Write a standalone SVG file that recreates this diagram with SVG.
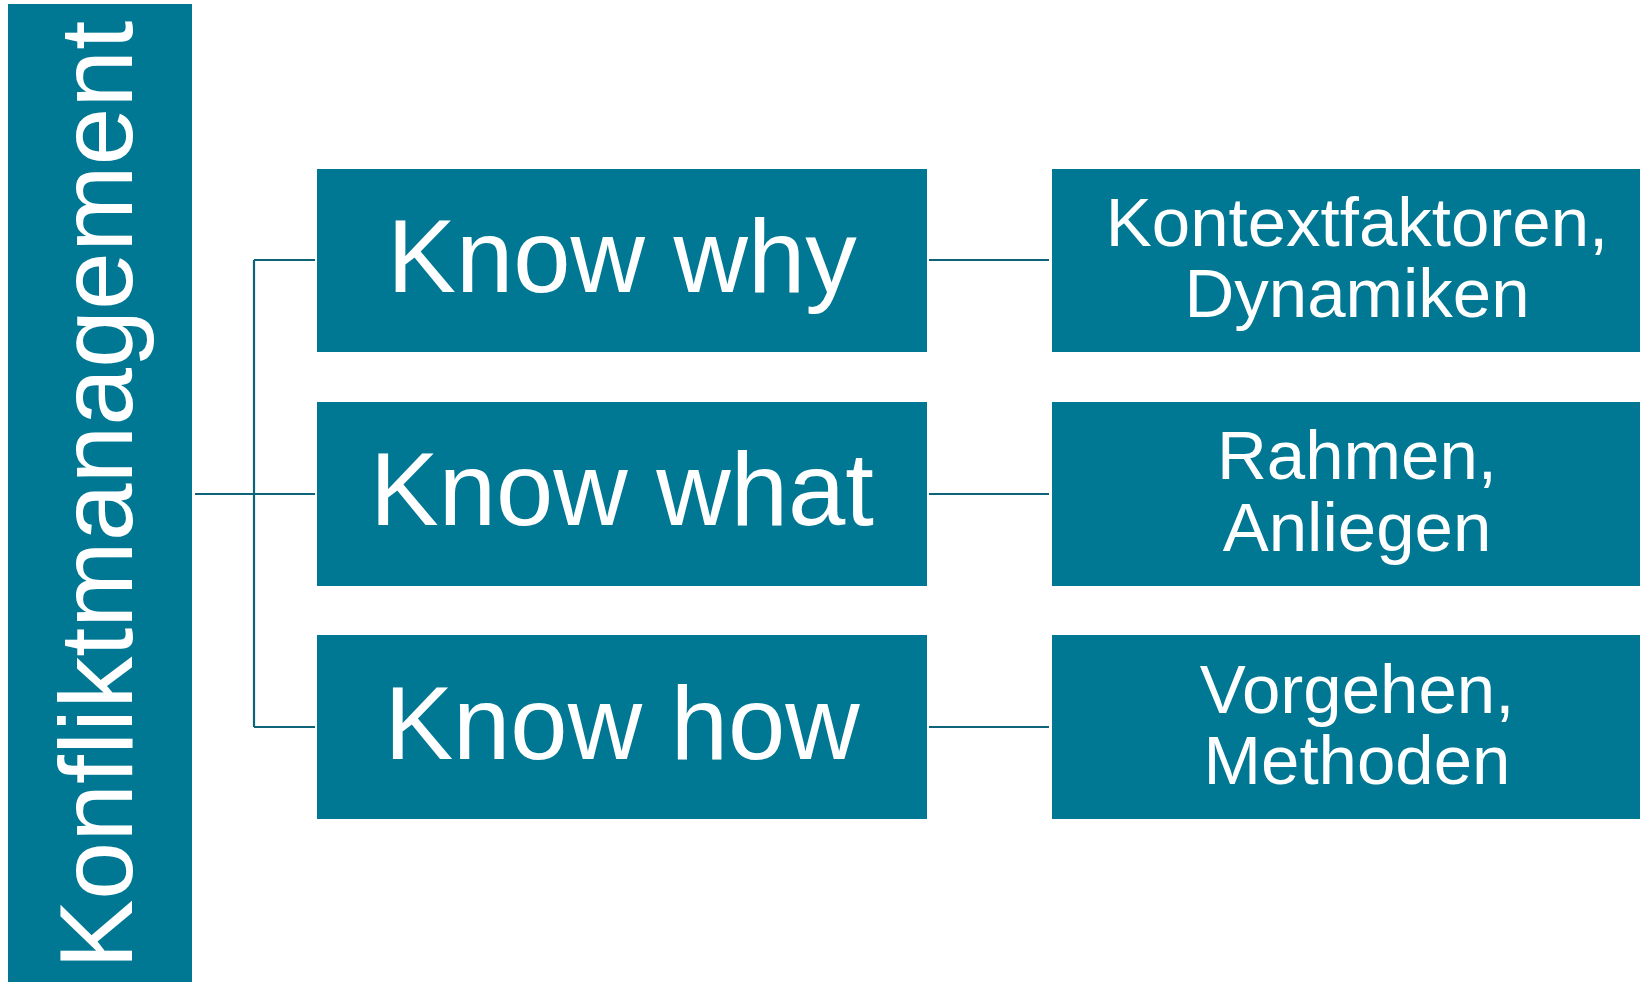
<svg xmlns="http://www.w3.org/2000/svg" width="1640" height="982" viewBox="0 0 1640 982">
<style>
.box{fill:#017893}
.big{font-family:"Liberation Sans",Arial,sans-serif;font-size:103px;fill:#fff;text-anchor:middle}
.sm{font-family:"Liberation Sans",Arial,sans-serif;font-size:69px;fill:#fff;text-anchor:middle}
.main{font-family:"Liberation Sans",Arial,sans-serif;font-size:104px;fill:#fff}
.con{stroke:#0d6479;stroke-width:2.2;fill:none}
</style>
<rect x="0" y="0" width="1640" height="982" fill="#fff"/>
<g id="connectors">
<path class="con" d="M195 494H315M254 260V727M254 260H315M254 727H315"/>
<path class="con" d="M929 260H1049M929 494H1049M929 727H1049"/>
</g>
<g id="root">
<rect class="box" x="8" y="4" width="184" height="978"/>
<text class="main" transform="translate(132 969) rotate(-90)">Konfliktmanagement</text>
</g>
<g id="why">
<rect class="box" x="317" y="169" width="610" height="183"/>
<text class="big" x="622" y="292">Know why</text>
</g>
<g id="what">
<rect class="box" x="317" y="402" width="610" height="184"/>
<text class="big" x="622" y="525">Know what</text>
</g>
<g id="how">
<rect class="box" x="317" y="635" width="610" height="184"/>
<text class="big" x="622" y="759">Know how</text>
</g>
<g id="kontext">
<rect class="box" x="1052" y="169" width="600" height="183"/>
<text class="sm" x="1357" y="246">Kontextfaktoren,</text>
<text class="sm" x="1357" y="317">Dynamiken</text>
</g>
<g id="rahmen">
<rect class="box" x="1052" y="402" width="600" height="184"/>
<text class="sm" x="1357" y="479">Rahmen,</text>
<text class="sm" x="1357" y="551">Anliegen</text>
</g>
<g id="vorgehen">
<rect class="box" x="1052" y="635" width="600" height="184"/>
<text class="sm" x="1357" y="713">Vorgehen,</text>
<text class="sm" x="1357" y="784">Methoden</text>
</g>
</svg>
